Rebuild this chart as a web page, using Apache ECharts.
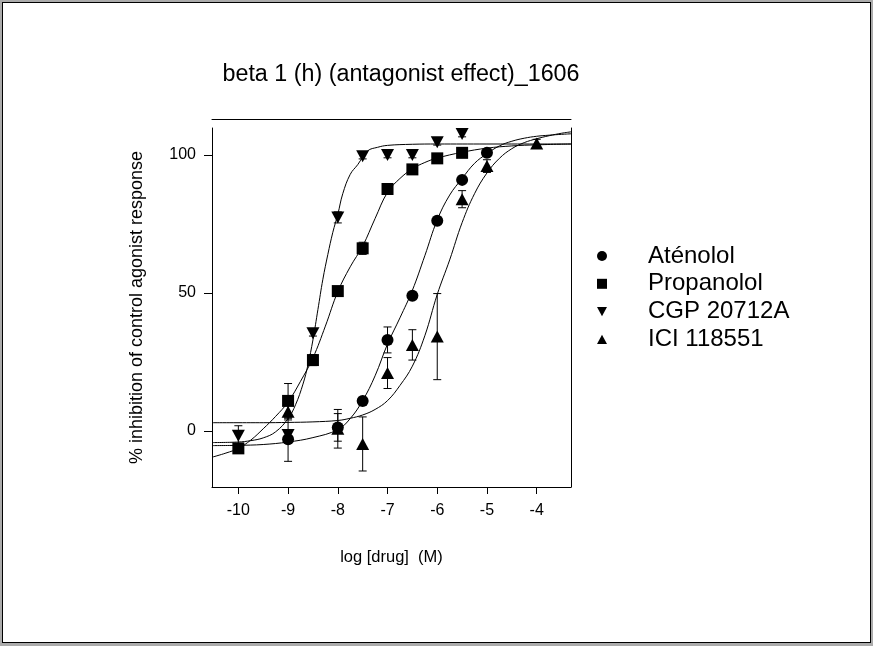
<!DOCTYPE html>
<html>
<head>
<meta charset="utf-8">
<script src="https://cdn.jsdelivr.net/npm/echarts@6/dist/echarts.min.js"></script>
<style>
  html, body { margin: 0; padding: 0; background: #ababab; }
  #frame { position: absolute; left: 2px; top: 2px; width: 867px; height: 639px; border: 1px solid #000; background: #fff; }
  #chart { position: absolute; left: 0; top: 0; width: 873px; height: 646px; }
</style>
</head>
<body>
<div id="frame"></div>
<div id="chart"></div>
<script>
// tick labels
var tickX = [-10, -9, -8, -7, -6, -5, -4];
var tickY = [0, 50, 100];

// measured points (mean, sem)
var atenololX = [-9, -8, -7.5, -7, -6.5, -6, -5.5, -5];
var atenololY = [-3.0, 1.3, 10.9, 33, 49, 76.2, 91, 100.8];
var atenololErr = [8, 5, 0.8, 4.7, 1, 1, 1, 1];

var propanololX = [-10, -9, -8.5, -8, -7.5, -7, -6.5, -6, -5.5];
var propanololY = [-6.3, 10.9, 25.7, 50.7, 66.2, 87.7, 94.8, 98.8, 100.8];
var propanololErr = [1, 6.3, 2, 1, 2.2, 1, 1, 1, 1];

var cgpX = [-10, -9, -8.5, -8, -7.5, -7, -6.5, -6, -5.5];
var cgpY = [-1.7, -1.5, 35.4, 77.4, 99.6, 100, 100, 104.6, 107.6];
var cgpErr = [3.6, 1, 1, 2, 1, 1, 1, 1, 1];

var iciX = [-9, -8, -7.5, -7, -6.5, -6, -5.5, -5, -4];
var iciY = [7.0, 0.8, -4.7, 21.0, 31.2, 34.2, 84, 96, 104.2];
var iciErr = [3, 7, 9.8, 5.6, 5.5, 15.6, 3.1, 2.3, 1.5];

// fitted curves
var atenololCurveX = [-10.53, -10, -9.5, -9, -8.5, -8, -7.75, -7.5, -7.25, -7, -6.75, -6.5, -6.25, -6, -5.75, -5.5, -5.25, -5, -4.75, -4.5, -4.25, -4, -3.75, -3.5, -3.31];
var atenololCurveY = [-5.3, -5.2, -4.9, -4.0, -2.4, 0.5, 4.5, 11, 20, 31.5, 41, 51, 63.5, 76.5, 85.5, 91.5, 97, 100.5, 103.3, 105, 106.1, 106.8, 107.2, 107.5, 107.7];

var propanololCurveX = [-10.53, -10.25, -10, -9.75, -9.5, -9.25, -9, -8.75, -8.5, -8.25, -8, -7.75, -7.5, -7.25, -7, -6.75, -6.5, -6.25, -6, -5.5, -5, -4.5, -4, -3.31];
var propanololCurveY = [-9.5, -8, -6.3, -3.3, 0.8, 5.3, 10.5, 18, 26.5, 38, 50.5, 59.5, 67, 77, 86.5, 91.5, 95, 97.3, 98.9, 101, 102.5, 103.3, 103.7, 104];

var cgpCurveX = [-10.53, -10, -9.75, -9.5, -9.25, -9, -8.85, -8.7, -8.6, -8.5, -8.4, -8.3, -8.2, -8.1, -8, -7.9, -7.75, -7.6, -7.4, -7.2, -7, -6.5, -6, -5, -4, -3.31];
var cgpCurveY = [-4.2, -4.0, -3.5, -2.5, -0.3, 4.5, 9.5, 17, 24, 33, 44, 55, 64, 72, 78.5, 86, 93, 96.5, 101.5, 102.8, 103.5, 103.9, 104, 104, 104, 104];

var iciCurveX = [-10.53, -9.5, -9, -8.5, -8, -7.75, -7.5, -7.25, -7, -6.75, -6.5, -6.25, -6, -5.75, -5.5, -5.25, -5, -4.75, -4.5, -4.25, -4, -3.75, -3.5, -3.31];
var iciCurveY = [3.0, 3.0, 3.1, 3.3, 3.8, 4.6, 5.8, 7.8, 11, 16.5, 23.5, 34.5, 49.5, 62, 75.5, 86, 93.5, 98.8, 102.3, 104.5, 105.9, 107.0, 107.9, 108.4];

var FONT = 'Arial, "Liberation Sans", sans-serif';
var square = 'path://M0,0 L10,0 L10,10 L0,10 Z';
var triDown = 'path://M0,0 L12,0 L6,11 Z';
var triUp = 'path://M6,0 L12,11 L0,11 Z';

function zip(xs, ys) {
  return xs.map(function (x, i) { return [x, ys[i]]; });
}
function zip3(xs, ys, es) {
  return xs.map(function (x, i) { return [x, ys[i], es[i]]; });
}

var errData = [].concat(
  zip3(atenololX, atenololY, atenololErr),
  zip3(propanololX, propanololY, propanololErr),
  zip3(cgpX, cgpY, cgpErr),
  zip3(iciX, iciY, iciErr)
);

function renderErr(params, api) {
  var x = api.value(0), y = api.value(1), e = api.value(2);
  var hi = api.coord([x, y + e]);
  var lo = api.coord([x, y - e]);
  var w = 4;
  var st = { stroke: '#000', lineWidth: 1 };
  return {
    type: 'group',
    children: [
      { type: 'line', shape: { x1: hi[0], y1: hi[1], x2: lo[0], y2: lo[1] }, style: st },
      { type: 'line', shape: { x1: hi[0] - w, y1: hi[1], x2: hi[0] + w, y2: hi[1] }, style: st },
      { type: 'line', shape: { x1: lo[0] - w, y1: lo[1], x2: lo[0] + w, y2: lo[1] }, style: st }
    ]
  };
}

function curve(name, xs, ys) {
  return {
    name: name,
    type: 'line',
    data: zip(xs, ys),
    smooth: 0.4,
    showSymbol: false,
    silent: true,
    lineStyle: { color: '#000', width: 1 },
    z: 1
  };
}

function points(name, xs, ys, symbol, size) {
  return {
    name: name,
    type: 'scatter',
    data: zip(xs, ys),
    symbol: symbol,
    symbolSize: size,
    itemStyle: { color: '#000', opacity: 1 },
    z: 3
  };
}

var chart = echarts.init(document.getElementById('chart'));
var option = {
  backgroundColor: 'transparent',
  animation: false,
  title: {
    text: 'beta 1 (h) (antagonist effect)_1606',
    left: 396,
    top: 58,
    textAlign: 'center',
    textStyle: { fontFamily: FONT, fontSize: 23.3, fontWeight: 'normal', color: '#000' }
  },
  legend: {
    orient: 'vertical',
    left: 597,
    top: 244,
    padding: 0,
    itemWidth: 10,
    itemHeight: 10,
    itemGap: 3.8,
    data: [
      { name: 'Aténolol', icon: 'circle' },
      { name: 'Propanolol', icon: square },
      { name: 'CGP 20712A', icon: triDown },
      { name: 'ICI 118551', icon: triUp }
    ],
    textStyle: { fontFamily: FONT, fontSize: 24, lineHeight: 22, color: '#000', padding: [0, 0, 0, 36] }
  },
  grid: { left: 212, top: 128, right: 302, bottom: 159 },
  xAxis: [{
    type: 'value',
    min: -10.53,
    max: -3.31,
    name: 'log [drug]  (M)',
    nameLocation: 'middle',
    nameGap: 62,
    nameTextStyle: { fontFamily: FONT, fontSize: 16.5, color: '#000' },
    axisLine: { show: true, onZero: false, lineStyle: { color: '#000', width: 1 } },
    axisTick: { show: true, length: 7, customValues: tickX, lineStyle: { color: '#000' } },
    axisLabel: { customValues: tickX, margin: 16, fontFamily: FONT, fontSize: 16, color: '#000' },
    splitLine: { show: false }
  }, {
    type: 'value',
    position: 'top',
    offset: 9,
    min: -10.53,
    max: -3.31,
    axisLine: { show: true, onZero: false, lineStyle: { color: '#000', width: 1 } },
    axisTick: { show: false },
    axisLabel: { show: false },
    splitLine: { show: false }
  }],
  yAxis: [{
    type: 'value',
    min: -20.3,
    max: 109.8,
    name: '% inhibition of control agonist response',
    nameLocation: 'middle',
    nameGap: 66,
    nameRotate: 90,
    nameTextStyle: { fontFamily: FONT, fontSize: 18, color: '#000' },
    axisLine: { show: true, onZero: false, lineStyle: { color: '#000', width: 1 } },
    axisTick: { show: true, length: 8, customValues: tickY, lineStyle: { color: '#000' } },
    axisLabel: { customValues: tickY, margin: 16, fontFamily: FONT, fontSize: 16, color: '#000' },
    splitLine: { show: false }
  }, {
    type: 'value',
    position: 'right',
    min: -20.3,
    max: 109.8,
    axisLine: { show: true, onZero: false, lineStyle: { color: '#000', width: 1 } },
    axisTick: { show: false },
    axisLabel: { show: false },
    splitLine: { show: false }
  }],
  series: [
    curve('Aténolol fit', atenololCurveX, atenololCurveY),
    curve('Propanolol fit', propanololCurveX, propanololCurveY),
    curve('CGP 20712A fit', cgpCurveX, cgpCurveY),
    curve('ICI 118551 fit', iciCurveX, iciCurveY),
    {
      name: 'sem',
      type: 'custom',
      renderItem: renderErr,
      data: errData,
      encode: { x: 0, y: 1 },
      silent: true,
      z: 2
    },
    points('Aténolol', atenololX, atenololY, 'circle', 12),
    points('Propanolol', propanololX, propanololY, square, 12),
    points('CGP 20712A', cgpX, cgpY, triDown, [13, 12]),
    points('ICI 118551', iciX, iciY, triUp, [13, 12])
  ]
};
chart.setOption(option);
</script>
</body>
</html>
